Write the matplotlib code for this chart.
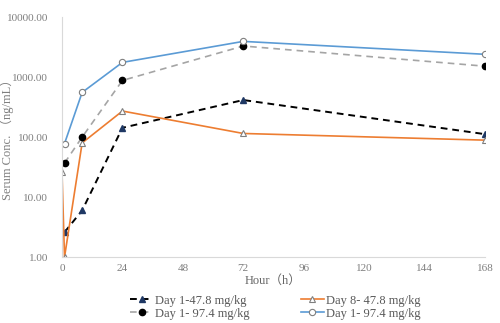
import numpy as np
import matplotlib
matplotlib.use('Agg')
import matplotlib.pyplot as plt
from matplotlib.ticker import FixedLocator, FuncFormatter, NullLocator

plt.rcParams['font.family'] = ['Liberation Serif', 'Noto Sans CJK SC']

# Data (ng/mL vs hour)
hours_d1_low = [1, 8, 24, 72, 168]
conc_d1_low = [2.6, 6.0, 143, 415, 112]

hours_d8_low = [0, 1, 8, 24, 72, 168]
conc_d8_low = [26, 1.0, 80, 272, 115, 89]

hours_d1_high = [1, 8, 24, 72, 168]
conc_d1_high = [37, 100, 880, 3300, 1520]

hours_d1_high_b = [1, 8, 24, 72, 168]
conc_d1_high_b = [78, 556, 1760, 3940, 2400]

labels = ['Day 1-47.8 mg/kg', 'Day 8- 47.8 mg/kg',
          'Day 1- 97.4 mg/kg', 'Day 1- 97.4 mg/kg']
xticks = [0, 24, 48, 72, 96, 120, 144, 168]
yticks = [1, 10, 100, 1000, 10000]

fig = plt.figure(figsize=(5, 3.23), dpi=100)
ax = fig.add_axes([0.124, 0.204, 0.846, 0.743])

l1, = ax.plot(hours_d1_low, conc_d1_low, color='black', ls=(0, (3.5, 2.5)), lw=1.4,
              marker='^', ms=4.5, mfc='#1F3864', mec='#1F3864')
l2, = ax.plot(hours_d8_low, conc_d8_low, color='#ED7D31', lw=1.2,
              marker='^', ms=4.5, mfc='white', mec='#7F7F7F', mew=0.8)
l3, = ax.plot(hours_d1_high, conc_d1_high, color='#A5A5A5', ls=(0, (4, 3)), lw=1.2,
              marker='o', ms=4.5, mfc='black', mec='black')
l4, = ax.plot(hours_d1_high_b, conc_d1_high_b, color='#5B9BD5', lw=1.2,
              marker='o', ms=4.5, mfc='white', mec='#7F7F7F', mew=0.8)

ax.set_yscale('log')
ax.set_ylim(1, 10000)
ax.set_xlim(0, 168)
ax.yaxis.set_major_locator(FixedLocator(yticks))
ax.yaxis.set_minor_locator(NullLocator())
ax.yaxis.set_major_formatter(FuncFormatter(lambda v, p: '%.2f' % v))
ax.set_xticks(xticks)

for s in ['top', 'right']:
    ax.spines[s].set_visible(False)
ax.spines['left'].set_color('#D9D9D9')
ax.spines['bottom'].set_color('#D9D9D9')
ax.tick_params(length=0, colors='#7F7F7F', labelsize=8)
ax.tick_params(axis='y', pad=10)
ax.tick_params(axis='x', pad=5)

ax.set_xlabel('Hour（h）', fontsize=9, color='#666666', labelpad=1)
ax.set_ylabel('Serum Conc. （ng/mL）', fontsize=9, color='#7F7F7F')
ax.yaxis.set_label_coords(-0.113, 0.5)

# legend fills column-wise, so order handles to get the reference rows
fig.legend([l1, l3, l2, l4], [labels[0], labels[2], labels[1], labels[3]],
           ncol=2, loc='lower left',
           bbox_to_anchor=(0.238, -0.025), frameon=False, fontsize=9,
           handlelength=1.8, columnspacing=4.1, handletextpad=0.2,
           labelspacing=0.1, labelcolor='#595959')

fig.savefig('out.png', dpi=100)
